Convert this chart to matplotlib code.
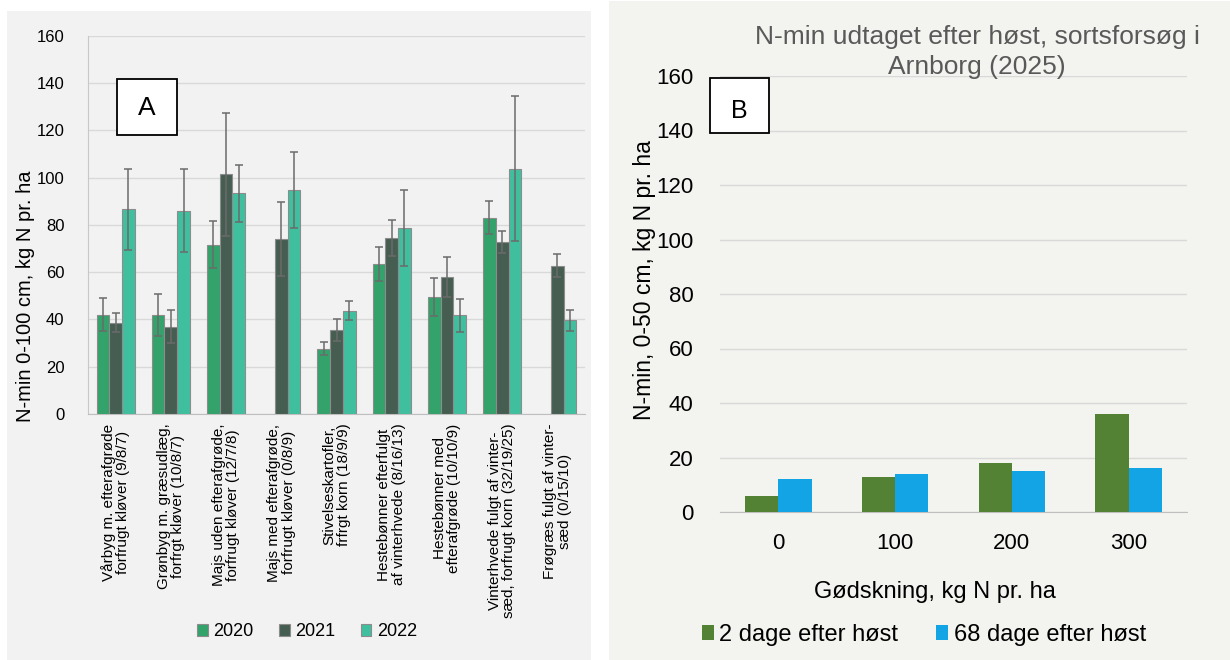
import numpy as np
import matplotlib.pyplot as plt
from matplotlib.patches import Rectangle

plt.rcParams['font.family'] = ['Liberation Sans', 'DejaVu Sans']

# Panel A data
crops = [
    "Vårbyg m. efterafgrøde\nforfrugt kløver (9/8/7)",
    "Grønbyg m. græsudlæg,\nforfrgt kløver (10/8/7)",
    "Majs uden efterafgrøde,\nforfrugt kløver (12/7/8)",
    "Majs med efterafgrøde,\nforfrugt kløver (0/8/9)",
    "Stivelseskartofler,\nfrfrgt korn (18/9/9)",
    "Hestebønner efterfulgt\naf vinterhvede (8/16/13)",
    "Hestebønner med\nefterafgrøde (10/10/9)",
    "Vinterhvede fulgt af vinter-\nsæd, forfrugt korn (32/19/25)",
    "Frøgræs fulgt af vinter-\nsæd (0/15/10)",
]
years = ["2020", "2021", "2022"]
nmin_2020 = [42, 41.8, 71.6, np.nan, 27.7, 63.4, 49.6, 83, np.nan]
nmin_2021 = [38.6, 37, 101.4, 74, 35.6, 74.5, 58, 72.7, 62.8]
nmin_2022 = [86.5, 86, 93.4, 94.7, 43.7, 78.7, 41.8, 103.8, 39.6]
err_2020 = [7, 9, 10, np.nan, 2.7, 7.2, 8, 7, np.nan]
err_2021 = [4, 7, 26, 15.6, 4.7, 7.6, 8.5, 4.6, 4.7]
err_2022 = [17, 17.5, 12, 16, 4, 16, 7, 30.6, 4.4]

# Panel B data
doses = ["0", "100", "200", "300"]
series_b = ["2 dage efter høst", "68 dage efter høst"]
days2 = [6, 13, 18, 36]
days68 = [12, 14, 15, 16]

W, H = 1230, 660
fig = plt.figure(figsize=(W / 100, H / 100), dpi=100)
fig.patch.set_facecolor("white")

# panel backgrounds
fig.patches.append(Rectangle((7 / W, 0), (591 - 7) / W, 1 - 11 / H,
                             transform=fig.transFigure, facecolor="#f2f2f2",
                             edgecolor="none", zorder=-10))
fig.patches.append(Rectangle((609 / W, 0), (W - 609) / W, 1 - 1 / H,
                             transform=fig.transFigure, facecolor="#f3f3ef",
                             edgecolor="none", zorder=-10))

# ---- Panel A ----
axA = fig.add_axes([88 / W, 1 - 414 / H, (585 - 88) / W, (414 - 35.7) / H])
axA.set_facecolor("none")
x = np.arange(len(crops))
bw = 0.23
cols_a = ["#33a36b", "#465e52", "#40bf9e"]
vals = [nmin_2020, nmin_2021, nmin_2022]
errs = [err_2020, err_2021, err_2022]
for i, (v, e, c, lab) in enumerate(zip(vals, errs, cols_a, years)):
    pos = x + (i - 1) * bw
    axA.bar(pos, v, bw, color=c, edgecolor="#8c8c8c", linewidth=0.8,
            label=lab, zorder=3)
    axA.errorbar(pos, v, yerr=e, fmt="none", ecolor="#6b6b6b",
                 elinewidth=1.1, capsize=3, capthick=1.1, zorder=4)
axA.set_ylim(0, 160)
axA.set_xlim(-0.5, len(crops) - 0.5)
axA.set_yticks(range(0, 161, 20))
axA.yaxis.grid(True, color="#d9d9d9", linewidth=1, zorder=0)
axA.set_axisbelow(True)
for s in ["top", "right"]:
    axA.spines[s].set_visible(False)
axA.spines["left"].set_color("#c8c8c8")
axA.spines["bottom"].set_color("#bfbfbf")
axA.tick_params(axis="y", length=0, labelsize=12, pad=17)
axA.tick_params(axis="x", length=0, pad=7)
axA.set_xticks(x)
axA.set_xticklabels(crops, rotation=90, fontsize=11, ha="center",
                    va="top", multialignment="center", linespacing=1.05)
fig.text(26 / W, 1 - 296 / H, "N-min 0-100 cm, kg N pr. ha", rotation=90,
         fontsize=14.5, ha="center", va="center")
axA.legend(loc="center", bbox_to_anchor=(307 / W, 1 - 632 / H),
           bbox_transform=fig.transFigure, ncol=3, frameon=False,
           fontsize=13, handlelength=0.6, handleheight=0.6,
           handletextpad=0.3, columnspacing=1.4)
fig.patches.append(Rectangle((117 / W, 1 - 135 / H), 60 / W, 56 / H,
                             transform=fig.transFigure, facecolor="white",
                             edgecolor="black", linewidth=1.3, zorder=5))
fig.text(147 / W, 1 - 108 / H, "A", fontsize=19, ha="center", va="center",
         zorder=6)

# ---- Panel B ----
axB = fig.add_axes([720 / W, 1 - 512 / H, (1187 - 720) / W, (512 - 76) / H])
axB.set_facecolor("none")
xb = np.arange(len(doses))
bwb = 0.285
axB.bar(xb - bwb / 2, days2, bwb, color="#548235", label=series_b[0], zorder=3)
axB.bar(xb + bwb / 2, days68, bwb, color="#12a4e4", label=series_b[1], zorder=3)
axB.set_ylim(0, 160)
axB.set_xlim(-0.5, len(doses) - 0.5)
axB.set_yticks(range(0, 161, 20))
axB.yaxis.grid(True, color="#d9d9d9", linewidth=1, zorder=0)
axB.set_axisbelow(True)
for s in ["top", "right", "left"]:
    axB.spines[s].set_visible(False)
axB.spines["bottom"].set_color("#bfbfbf")
axB.set_xticks(xb)
axB.set_xticklabels(doses)
axB.tick_params(axis="both", length=0, labelsize=16)
axB.tick_params(axis="y", pad=19)
axB.tick_params(axis="x", pad=15)
fig.text(935 / W, 1 - 592 / H, "Gødskning, kg N pr. ha", fontsize=17,
         ha="center", va="center")
fig.text(645 / W, 1 - 280 / H, "N-min, 0-50 cm, kg N pr. ha", rotation=90,
         fontsize=16.5, ha="center", va="center")
fig.text(977 / W, 1 - 52 / H,
         "N-min udtaget efter høst, sortsforsøg i\nArnborg (2025)",
         fontsize=19, color="#595959", ha="center", va="center",
         linespacing=1.35)
axB.legend(loc="center", bbox_to_anchor=(924 / W, 1 - 635 / H),
           bbox_transform=fig.transFigure, ncol=2, frameon=False,
           fontsize=17, handlelength=0.5, handleheight=0.6,
           handletextpad=0.25, columnspacing=1.6)
fig.patches.append(Rectangle((710 / W, 1 - 133 / H), 59 / W, 55 / H,
                             transform=fig.transFigure, facecolor="white",
                             edgecolor="black", linewidth=1.3, zorder=5))
fig.text(739.5 / W, 1 - 111 / H, "B", fontsize=18, ha="center", va="center",
         zorder=6)

fig.savefig("out.png", dpi=100)
